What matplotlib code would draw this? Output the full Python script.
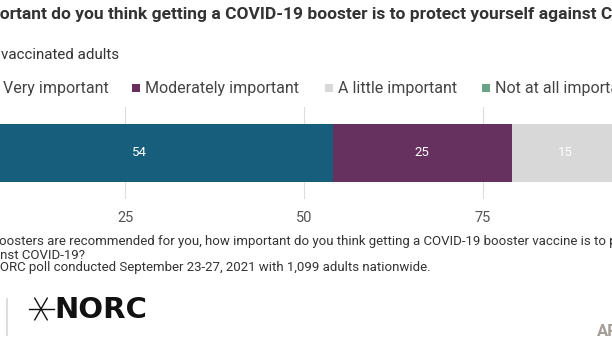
import matplotlib.pyplot as plt
from matplotlib.lines import Line2D
from matplotlib.patches import Rectangle
import numpy as np

# data
categories = ['Very important', 'Moderately important', 'A little important', 'Not at all important']
values = [54, 25, 15, 6]
colors = ['#175e7d', '#66305f', '#d8d8d8', '#6aa287']
ticks = [0, 25, 50, 75, 100]
tick_labels = ['0', '25', '50', '75', '100']

title = 'How important do you think getting a COVID-19 booster is to protect yourself against COVID-19?'
subtitle = 'Among vaccinated adults'
note1 = 'Question: If boosters are recommended for you, how important do you think getting a COVID-19 booster vaccine is to protect yourself'
note2 = 'against COVID-19?'
source = 'Source: AP-NORC poll conducted September 23-27, 2021 with 1,099 adults nationwide.'

W, H = 612, 347
plt.rcParams['font.family'] = ['Roboto', 'DejaVu Sans']

fig = plt.figure(figsize=(W / 100, H / 100), dpi=100)
renderer = fig.canvas.get_renderer()


def fx(px):
    return px / W


def fy(py):
    return 1 - py / H


def text_width(s, **kw):
    t = fig.text(0, 0, s, **kw)
    w = t.get_window_extent(renderer).width
    t.remove()
    return w


def cut_text(visible_x, y, s, prefix, **kw):
    # place text so that the part after `prefix` starts at visible_x
    first = s[len(prefix):].split(' ')[0]
    off = text_width(prefix + first, **kw) - text_width(first, **kw)
    fig.text(fx(visible_x - off), fy(y), s, va='center', ha='left', **kw)


# main bar axes: 0 at x=-54px, 100 at x=662px
ax = fig.add_axes([fx(-54), fy(199), 716 / W, 92 / H])
left = 0
for cat, v, c in zip(categories, values, colors):
    ax.barh(0, v, left=left, height=0.63, color=c, zorder=2)
    ax.text(left + v / 2, 0, str(v), ha='center', va='center', color='white',
            fontsize=9.5, zorder=3)
    left += v
ax.set_xlim(0, 100)
ax.set_ylim(-0.5, 0.5)
for t in ticks:
    ax.axvline(t, color='#dddddd', lw=0.8, zorder=1)
ax.set_xticks(ticks)
ax.set_xticklabels(tick_labels)
ax.set_yticks([])
ax.tick_params(axis='x', length=0, pad=9, labelsize=10.5, labelcolor='#555555')
for s in ax.spines.values():
    s.set_visible(False)
ax.patch.set_visible(False)

# titles and notes
cut_text(0, 14, title, 'How imp', fontsize=12.5, fontweight='bold', color='#333333')
cut_text(1, 55, subtitle, 'Among ', fontsize=10.9, color='#333333')
cut_text(-1, 241, note1, 'Question: If b', fontsize=9.5, color='#333333')
cut_text(0, 255, note2, 'agai', fontsize=9.5, color='#333333')
cut_text(0, 268, source, 'Source: AP-N', fontsize=9.5, color='#333333')

# legend
leg_text_x = [3, 145, 338, 495]
for cat, c, tx in zip(categories, colors, leg_text_x):
    sq = 7.5
    fig.add_artist(Rectangle((fx(tx - 13), fy(88 + sq / 2)), sq / W, sq / H,
                             transform=fig.transFigure, color=c, lw=0))
    fig.text(fx(tx), fy(88), cat, va='center', ha='left', fontsize=11.5, color='#444444')

# logo
fig.add_artist(Line2D([fx(7), fx(7)], [fy(299), fy(335)], transform=fig.transFigure,
                      color='#dddddd', lw=1.5))
cx, cy, r = 41, 309, 12.5
for ang in [0, 60, 120]:
    a = np.deg2rad(ang)
    fig.add_artist(Line2D([fx(cx - r * np.cos(a)), fx(cx + r * np.cos(a))],
                          [fy(cy - r * np.sin(a)), fy(cy + r * np.sin(a))],
                          transform=fig.transFigure, color='#111111', lw=1.0))
fig.text(fx(54), fy(310), 'NORC', va='center', ha='left', fontsize=21,
         fontweight='bold', family=['DejaVu Sans'], color='#111111')
fig.text(fx(597), fy(332), 'AP', va='center', ha='left', fontsize=12,
         fontweight='bold', color='#a59e94')

fig.savefig('out.png', dpi=100)
